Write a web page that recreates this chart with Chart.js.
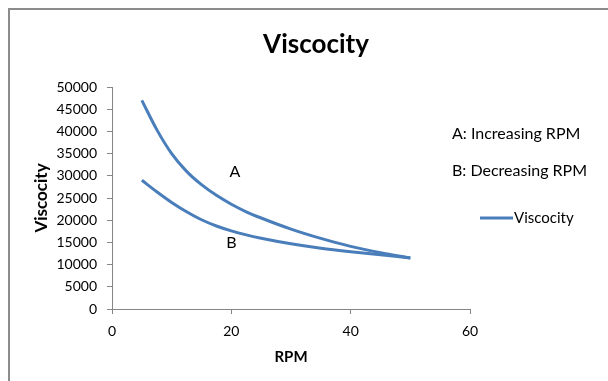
<!DOCTYPE html>
<html>
<head>
<meta charset="utf-8">
<script src="https://cdn.jsdelivr.net/npm/chart.js@4.4.1/dist/chart.umd.min.js"></script>
<style>
	html, body { margin: 0; padding: 0; background: #fff; }
	#wrap { width: 608px; height: 381px; }
</style>
</head>
<body>
<div id="wrap"><canvas id="canvasViscosity" width="608" height="381"></canvas></div>
<script>
"use strict";

// readings
var rpmA = [5, 7.5, 10, 12.5, 15, 17.5, 20, 22.5, 25, 30, 35, 40, 45, 50];
var viscA = [47000, 40400, 35000, 31000, 28000, 25600, 23600, 21900, 20500, 18000, 15900, 14100, 12700, 11500];
var rpmB = [5, 7.5, 10, 12.5, 15, 17.5, 20, 22.5, 25, 30, 35, 40, 45, 50];
var viscB = [29000, 26400, 24000, 21900, 20100, 18700, 17600, 16700, 15950, 14700, 13700, 12900, 12200, 11500];
var xTicks = [0, 20, 40, 60];
var yTicks = [0, 5000, 10000, 15000, 20000, 25000, 30000, 35000, 40000, 45000, 50000];

var lineColor = '#4A7EBB';
var axisColor = '#868686';
var fontFamily = 'Lato, "Open Sans", sans-serif';

function ToPoints(xs, ys) {
	var pts = [];
	for (var i = 0; i < xs.length; i++) {
		pts.push({ x: xs[i], y: ys[i] });
	}
	return pts;
}

// border, title, notes and the legend box drawn like the excel sheet
var sheetPlugin = {
	id: 'sheet',
	beforeDraw: function (chart) {
		var ctx = chart.ctx;
		ctx.save();
		ctx.strokeStyle = '#8c8c8c';
		ctx.lineWidth = 2;
		ctx.strokeRect(9, 9, 700, 500);
		ctx.restore();
	},
	afterDraw: function (chart) {
		var ctx = chart.ctx;
		var xs = chart.scales.x, ys = chart.scales.y;
		ctx.save();
		ctx.fillStyle = '#000';
		ctx.textBaseline = 'middle';

		ctx.textAlign = 'center';
		ctx.font = 'bold 26px ' + fontFamily;
		ctx.fillText('Viscocity', 316, 45);

		ctx.font = '16px ' + fontFamily;
		ctx.fillText('A', xs.getPixelForValue(20.6), ys.getPixelForValue(30800));
		ctx.fillText('B', xs.getPixelForValue(20), ys.getPixelForValue(15000));

		ctx.textAlign = 'left';
		ctx.fillText('A: Increasing RPM', 452, 134);
		ctx.fillText('B: Decreasing RPM', 452, 171);

		ctx.strokeStyle = lineColor;
		ctx.lineWidth = 3;
		ctx.beginPath();
		ctx.moveTo(480, 218);
		ctx.lineTo(513, 218);
		ctx.stroke();
		ctx.font = '15px ' + fontFamily;
		ctx.fillText('Viscocity', 514, 218);
		ctx.restore();
	}
};

const context = document.getElementById('canvasViscosity');
const myChart = new Chart(context, {
	type: 'scatter',
	data: {
		datasets: [{
			label: 'Viscocity',
			data: ToPoints(rpmA, viscA),
			showLine: true,
			borderColor: lineColor,
			backgroundColor: lineColor,
			borderWidth: 3,
			pointRadius: 0,
			cubicInterpolationMode: 'monotone'
		}, {
			label: 'Viscocity B',
			data: ToPoints(rpmB, viscB),
			showLine: true,
			borderColor: lineColor,
			backgroundColor: lineColor,
			borderWidth: 3,
			pointRadius: 0,
			cubicInterpolationMode: 'monotone'
		}]
	},
	options: {
		responsive: false,
		animation: false,
		layout: {
			padding: { left: 10, right: 138, top: 87, bottom: 12 }
		},
		plugins: {
			legend: { display: false },
			title: { display: false },
			tooltip: { enabled: false }
		},
		scales: {
			x: {
				type: 'linear',
				min: 0,
				max: 60,
				afterFit: function (scale) { scale.height = 60; },
				afterBuildTicks: function (scale) {
					scale.ticks = xTicks.map(function (v) { return { value: v }; });
				},
				grid: { drawOnChartArea: false, color: axisColor, tickLength: 5 },
				border: { color: axisColor },
				ticks: { color: '#000', padding: 9, font: { family: fontFamily, size: 14 } },
				title: {
					display: true,
					text: 'RPM',
					color: '#000',
					font: { family: fontFamily, size: 15, weight: 'bold' },
					padding: { top: 0, bottom: 3 }
				}
			},
			y: {
				type: 'linear',
				min: 0,
				max: 50000,
				afterFit: function (scale) { scale.width = 102; },
				afterBuildTicks: function (scale) {
					scale.ticks = yTicks.map(function (v) { return { value: v }; });
				},
				grid: { drawOnChartArea: false, color: axisColor, tickLength: 5 },
				border: { color: axisColor },
				ticks: {
					color: '#000',
					padding: 10,
					font: { family: fontFamily, size: 14 },
					callback: function (v) { return String(v); }
				},
				title: {
					display: true,
					text: 'Viscocity',
					color: '#000',
					font: { family: fontFamily, size: 17, weight: 'bold' },
					padding: { top: 21, bottom: 0 }
				}
			}
		}
	},
	plugins: [sheetPlugin]
});
</script>
</body>
</html>
